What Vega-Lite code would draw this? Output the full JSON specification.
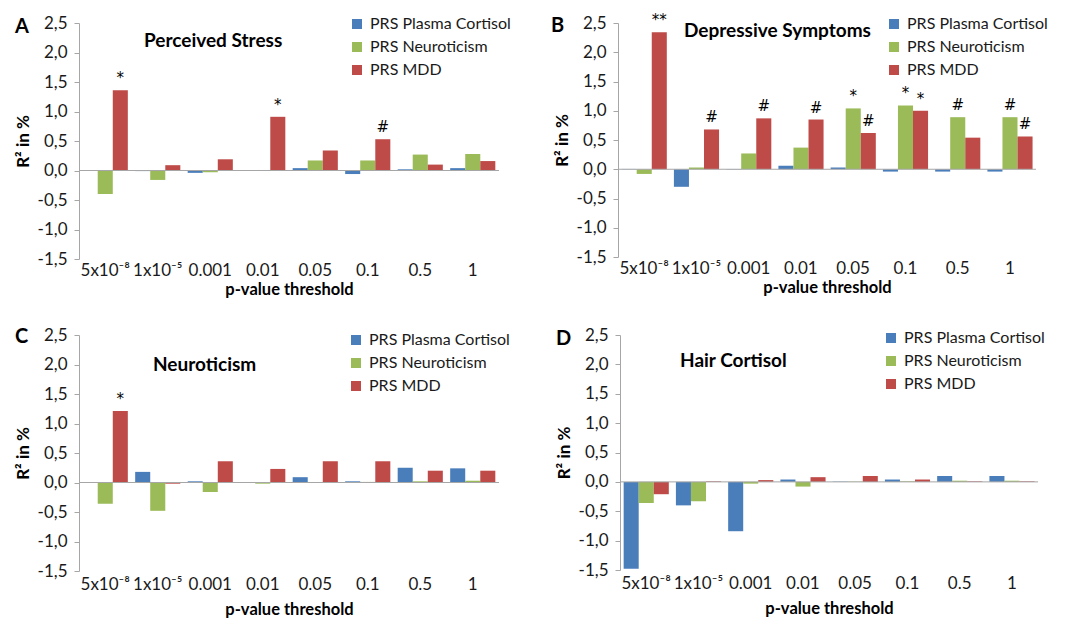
{
  "$schema": "https://vega.github.io/schema/vega-lite/v6.json",
  "padding": {"left": 14, "top": 13, "right": 5, "bottom": 0},
  "background": "white",
  "datasets": {
    "bars": [
      {"p":"A","t":"5x10⁻⁸","s":"PRS Plasma Cortisol","v":0.005},
      {"p":"A","t":"5x10⁻⁸","s":"PRS Neuroticism","v":-0.40},
      {"p":"A","t":"5x10⁻⁸","s":"PRS MDD","v":1.36,"sig":"*"},
      {"p":"A","t":"1x10⁻⁵","s":"PRS Plasma Cortisol","v":-0.01},
      {"p":"A","t":"1x10⁻⁵","s":"PRS Neuroticism","v":-0.16},
      {"p":"A","t":"1x10⁻⁵","s":"PRS MDD","v":0.09},
      {"p":"A","t":"0.001","s":"PRS Plasma Cortisol","v":-0.04},
      {"p":"A","t":"0.001","s":"PRS Neuroticism","v":-0.03},
      {"p":"A","t":"0.001","s":"PRS MDD","v":0.19},
      {"p":"A","t":"0.01","s":"PRS Plasma Cortisol","v":0.005},
      {"p":"A","t":"0.01","s":"PRS Neuroticism","v":0.005},
      {"p":"A","t":"0.01","s":"PRS MDD","v":0.91,"sig":"*"},
      {"p":"A","t":"0.05","s":"PRS Plasma Cortisol","v":0.04},
      {"p":"A","t":"0.05","s":"PRS Neuroticism","v":0.17},
      {"p":"A","t":"0.05","s":"PRS MDD","v":0.34},
      {"p":"A","t":"0.1","s":"PRS Plasma Cortisol","v":-0.06},
      {"p":"A","t":"0.1","s":"PRS Neuroticism","v":0.17},
      {"p":"A","t":"0.1","s":"PRS MDD","v":0.53,"sig":"#"},
      {"p":"A","t":"0.5","s":"PRS Plasma Cortisol","v":0.02},
      {"p":"A","t":"0.5","s":"PRS Neuroticism","v":0.27},
      {"p":"A","t":"0.5","s":"PRS MDD","v":0.10},
      {"p":"A","t":"1","s":"PRS Plasma Cortisol","v":0.04},
      {"p":"A","t":"1","s":"PRS Neuroticism","v":0.28},
      {"p":"A","t":"1","s":"PRS MDD","v":0.16},

      {"p":"B","t":"5x10⁻⁸","s":"PRS Plasma Cortisol","v":0.005},
      {"p":"B","t":"5x10⁻⁸","s":"PRS Neuroticism","v":-0.08},
      {"p":"B","t":"5x10⁻⁸","s":"PRS MDD","v":2.34,"sig":"**"},
      {"p":"B","t":"1x10⁻⁵","s":"PRS Plasma Cortisol","v":-0.30},
      {"p":"B","t":"1x10⁻⁵","s":"PRS Neuroticism","v":0.03},
      {"p":"B","t":"1x10⁻⁵","s":"PRS MDD","v":0.68,"sig":"#"},
      {"p":"B","t":"0.001","s":"PRS Plasma Cortisol","v":-0.005},
      {"p":"B","t":"0.001","s":"PRS Neuroticism","v":0.27},
      {"p":"B","t":"0.001","s":"PRS MDD","v":0.87,"sig":"#"},
      {"p":"B","t":"0.01","s":"PRS Plasma Cortisol","v":0.06},
      {"p":"B","t":"0.01","s":"PRS Neuroticism","v":0.37},
      {"p":"B","t":"0.01","s":"PRS MDD","v":0.85,"sig":"#"},
      {"p":"B","t":"0.05","s":"PRS Plasma Cortisol","v":0.03},
      {"p":"B","t":"0.05","s":"PRS Neuroticism","v":1.04,"sig":"*"},
      {"p":"B","t":"0.05","s":"PRS MDD","v":0.62,"sig":"#"},
      {"p":"B","t":"0.1","s":"PRS Plasma Cortisol","v":-0.04},
      {"p":"B","t":"0.1","s":"PRS Neuroticism","v":1.09,"sig":"*"},
      {"p":"B","t":"0.1","s":"PRS MDD","v":1.00,"sig":"*"},
      {"p":"B","t":"0.5","s":"PRS Plasma Cortisol","v":-0.04},
      {"p":"B","t":"0.5","s":"PRS Neuroticism","v":0.89,"sig":"#"},
      {"p":"B","t":"0.5","s":"PRS MDD","v":0.54},
      {"p":"B","t":"1","s":"PRS Plasma Cortisol","v":-0.04},
      {"p":"B","t":"1","s":"PRS Neuroticism","v":0.89,"sig":"#"},
      {"p":"B","t":"1","s":"PRS MDD","v":0.56,"sig":"#"},

      {"p":"C","t":"5x10⁻⁸","s":"PRS Plasma Cortisol","v":-0.005},
      {"p":"C","t":"5x10⁻⁸","s":"PRS Neuroticism","v":-0.36},
      {"p":"C","t":"5x10⁻⁸","s":"PRS MDD","v":1.21,"sig":"*"},
      {"p":"C","t":"1x10⁻⁵","s":"PRS Plasma Cortisol","v":0.18},
      {"p":"C","t":"1x10⁻⁵","s":"PRS Neuroticism","v":-0.48},
      {"p":"C","t":"1x10⁻⁵","s":"PRS MDD","v":-0.02},
      {"p":"C","t":"0.001","s":"PRS Plasma Cortisol","v":0.02},
      {"p":"C","t":"0.001","s":"PRS Neuroticism","v":-0.16},
      {"p":"C","t":"0.001","s":"PRS MDD","v":0.36},
      {"p":"C","t":"0.01","s":"PRS Plasma Cortisol","v":-0.005},
      {"p":"C","t":"0.01","s":"PRS Neuroticism","v":-0.02},
      {"p":"C","t":"0.01","s":"PRS MDD","v":0.23},
      {"p":"C","t":"0.05","s":"PRS Plasma Cortisol","v":0.09},
      {"p":"C","t":"0.05","s":"PRS Neuroticism","v":0.005},
      {"p":"C","t":"0.05","s":"PRS MDD","v":0.36},
      {"p":"C","t":"0.1","s":"PRS Plasma Cortisol","v":0.02},
      {"p":"C","t":"0.1","s":"PRS Neuroticism","v":0.01},
      {"p":"C","t":"0.1","s":"PRS MDD","v":0.36},
      {"p":"C","t":"0.5","s":"PRS Plasma Cortisol","v":0.25},
      {"p":"C","t":"0.5","s":"PRS Neuroticism","v":0.02},
      {"p":"C","t":"0.5","s":"PRS MDD","v":0.20},
      {"p":"C","t":"1","s":"PRS Plasma Cortisol","v":0.24},
      {"p":"C","t":"1","s":"PRS Neuroticism","v":0.03},
      {"p":"C","t":"1","s":"PRS MDD","v":0.20},

      {"p":"D","t":"5x10⁻⁸","s":"PRS Plasma Cortisol","v":-1.48},
      {"p":"D","t":"5x10⁻⁸","s":"PRS Neuroticism","v":-0.36},
      {"p":"D","t":"5x10⁻⁸","s":"PRS MDD","v":-0.21},
      {"p":"D","t":"1x10⁻⁵","s":"PRS Plasma Cortisol","v":-0.40},
      {"p":"D","t":"1x10⁻⁵","s":"PRS Neuroticism","v":-0.33},
      {"p":"D","t":"1x10⁻⁵","s":"PRS MDD","v":0.01},
      {"p":"D","t":"0.001","s":"PRS Plasma Cortisol","v":-0.84},
      {"p":"D","t":"0.001","s":"PRS Neuroticism","v":-0.03},
      {"p":"D","t":"0.001","s":"PRS MDD","v":0.03},
      {"p":"D","t":"0.01","s":"PRS Plasma Cortisol","v":0.04},
      {"p":"D","t":"0.01","s":"PRS Neuroticism","v":-0.08},
      {"p":"D","t":"0.01","s":"PRS MDD","v":0.08},
      {"p":"D","t":"0.05","s":"PRS Plasma Cortisol","v":0.005},
      {"p":"D","t":"0.05","s":"PRS Neuroticism","v":0.005},
      {"p":"D","t":"0.05","s":"PRS MDD","v":0.10},
      {"p":"D","t":"0.1","s":"PRS Plasma Cortisol","v":0.04},
      {"p":"D","t":"0.1","s":"PRS Neuroticism","v":0.01},
      {"p":"D","t":"0.1","s":"PRS MDD","v":0.04},
      {"p":"D","t":"0.5","s":"PRS Plasma Cortisol","v":0.10},
      {"p":"D","t":"0.5","s":"PRS Neuroticism","v":0.02},
      {"p":"D","t":"0.5","s":"PRS MDD","v":0.01},
      {"p":"D","t":"1","s":"PRS Plasma Cortisol","v":0.10},
      {"p":"D","t":"1","s":"PRS Neuroticism","v":0.02},
      {"p":"D","t":"1","s":"PRS MDD","v":0.01}
    ]
  },
  "config": {
    "font": "Lato",
    "locale": {"number": {"decimal": ",", "thousands": ".", "grouping": [3], "currency": ["", " €"], "minus": "-"}},
    "view": {"stroke": null},
    "title": {"font": "Lato", "fontWeight": "bold", "color": "#000000"},
    "axis": {"labelFont": "Lato", "titleFont": "Lato", "labelColor": "#1a1a1a", "titleColor": "#000000", "labelOverlap": false},
    "axisY": {"labelOverlap": false, "labelFlush": false, "tickCount": 9},
    "legend": {"labelFont": "Lato", "labelFontSize": 16, "labelColor": "#1a1a1a", "symbolType": "square", "symbolSize": 100, "symbolStrokeWidth": 0, "rowPadding": 7, "labelOffset": 5, "padding": 0},
    "bar": {"stroke": null}
  },
  "resolve": {"scale": {"color": "independent"}, "legend": {"color": "independent"}},
  "spacing": 28,
  "vconcat": [
    {
      "spacing": 40,
      "resolve": {"scale": {"color": "independent"}, "legend": {"color": "independent"}},
      "hconcat": [
        {
          "title": {"text": "A", "anchor": "start", "frame": "bounds", "offset": -23, "fontSize": 20, "dx": 1},
          "resolve": {"scale": {"color": "independent"}, "legend": {"color": "independent"}},
          "vconcat": [
            {
              "width": 420, "height": 236,
              "title": {"text": "Perceived Stress", "anchor": "start", "frame": "group", "offset": -37, "dx": 65, "fontSize": 19},
              "data": {"name": "bars"},
              "transform": [{"filter": "datum.p === 'A'"}],
              "layer": [
                {"mark": {"type": "bar"},
                 "encoding": {
                   "x": {"field": "t", "type": "nominal", "sort": ["5x10⁻⁸","1x10⁻⁵","0.001","0.01","0.05","0.1","0.5","1"], "scale": {"paddingInner": 0.14, "paddingOuter": 0.07}, "title": "p-value threshold", "axis": {"domain": false, "ticks": false, "labelAngle": 0, "labelFontSize": 17, "labelPadding": 3, "titleFontSize": 16.5, "titleFontWeight": "bold", "titlePadding": 3, "labelOverlap": false}},
                   "xOffset": {"field": "s", "type": "nominal", "sort": ["PRS Plasma Cortisol","PRS Neuroticism","PRS MDD"], "scale": {"paddingInner": 0}},
                   "y": {"field": "v", "type": "quantitative", "scale": {"domain": [-1.5, 2.5], "nice": false}, "title": "R² in %", "axis": {"values": [-1.5,-1.0,-0.5,0.0,0.5,1.0,1.5,2.0,2.5], "format": ".1f", "labelOverlap": false, "labelFlush": false, "grid": false, "domainColor": "#a6a6a6", "tickColor": "#a6a6a6", "tickSize": 5, "labelPadding": 7, "labelFontSize": 17, "titleFontSize": 17, "titleFontWeight": "bold", "titlePadding": 5}},
                   "color": {"field": "s", "type": "nominal", "scale": {"domain": ["PRS Plasma Cortisol","PRS Neuroticism","PRS MDD"], "range": ["#4A7EBB","#9BBB59","#BE4B48"]}, "legend": {"title": null, "orient": "none", "legendX": 270, "legendY": -7}}
                 }},
                {"data": {"values": [{}]}, "mark": {"type": "rule", "color": "#a6a6a6", "strokeWidth": 1}, "encoding": {"y": {"datum": 0}}},
                {"transform": [{"filter": "datum.sig"}],
                 "mark": {"type": "text", "baseline": "bottom", "dy": -4, "fontSize": 15, "font": "DejaVu Sans", "color": "#000000"},
                 "encoding": {
                   "x": {"field": "t", "type": "nominal", "sort": ["5x10⁻⁸","1x10⁻⁵","0.001","0.01","0.05","0.1","0.5","1"]},
                   "xOffset": {"field": "s", "type": "nominal", "sort": ["PRS Plasma Cortisol","PRS Neuroticism","PRS MDD"]},
                   "y": {"field": "v", "type": "quantitative"},
                   "text": {"field": "sig"}
                 }}
              ]
            }
          ]
        },
        {
          "title": {"text": "B", "anchor": "start", "frame": "bounds", "offset": -23, "fontSize": 20, "dx": -2},
          "resolve": {"scale": {"color": "independent"}, "legend": {"color": "independent"}},
          "vconcat": [
            {
              "width": 418, "height": 234,
              "title": {"text": "Depressive Symptoms", "anchor": "start", "frame": "group", "offset": -28, "dx": 66, "fontSize": 19},
              "data": {"name": "bars"},
              "transform": [{"filter": "datum.p === 'B'"}],
              "layer": [
                {"mark": {"type": "bar"},
                 "encoding": {
                   "x": {"field": "t", "type": "nominal", "sort": ["5x10⁻⁸","1x10⁻⁵","0.001","0.01","0.05","0.1","0.5","1"], "scale": {"paddingInner": 0.14, "paddingOuter": 0.07}, "title": "p-value threshold", "axis": {"domain": false, "ticks": false, "labelAngle": 0, "labelFontSize": 17, "labelPadding": 3, "titleFontSize": 16.5, "titleFontWeight": "bold", "titlePadding": 3, "labelOverlap": false}},
                   "xOffset": {"field": "s", "type": "nominal", "sort": ["PRS Plasma Cortisol","PRS Neuroticism","PRS MDD"], "scale": {"paddingInner": 0}},
                   "y": {"field": "v", "type": "quantitative", "scale": {"domain": [-1.5, 2.5], "nice": false}, "title": "R² in %", "axis": {"values": [-1.5,-1.0,-0.5,0.0,0.5,1.0,1.5,2.0,2.5], "format": ".1f", "labelOverlap": false, "labelFlush": false, "grid": false, "domainColor": "#a6a6a6", "tickColor": "#a6a6a6", "tickSize": 5, "labelPadding": 7, "labelFontSize": 17, "titleFontSize": 17, "titleFontWeight": "bold", "titlePadding": 5}},
                   "color": {"field": "s", "type": "nominal", "scale": {"domain": ["PRS Plasma Cortisol","PRS Neuroticism","PRS MDD"], "range": ["#4A7EBB","#9BBB59","#BE4B48"]}, "legend": {"title": null, "orient": "none", "legendX": 268, "legendY": -7}}
                 }},
                {"data": {"values": [{}]}, "mark": {"type": "rule", "color": "#a6a6a6", "strokeWidth": 1}, "encoding": {"y": {"datum": 0}}},
                {"transform": [{"filter": "datum.sig"}],
                 "mark": {"type": "text", "baseline": "bottom", "dy": -4, "fontSize": 15, "font": "DejaVu Sans", "color": "#000000"},
                 "encoding": {
                   "x": {"field": "t", "type": "nominal", "sort": ["5x10⁻⁸","1x10⁻⁵","0.001","0.01","0.05","0.1","0.5","1"]},
                   "xOffset": {"field": "s", "type": "nominal", "sort": ["PRS Plasma Cortisol","PRS Neuroticism","PRS MDD"]},
                   "y": {"field": "v", "type": "quantitative"},
                   "text": {"field": "sig"}
                 }}
              ]
            }
          ]
        }
      ]
    },
    {
      "spacing": 45,
      "resolve": {"scale": {"color": "independent"}, "legend": {"color": "independent"}},
      "hconcat": [
        {
          "title": {"text": "C", "anchor": "start", "frame": "bounds", "offset": -21, "fontSize": 20, "dx": 1},
          "resolve": {"scale": {"color": "independent"}, "legend": {"color": "independent"}},
          "vconcat": [
            {
              "width": 420, "height": 236,
              "title": {"text": "Neuroticism", "anchor": "start", "frame": "group", "offset": -49, "dx": 74, "fontSize": 19},
              "data": {"name": "bars"},
              "transform": [{"filter": "datum.p === 'C'"}],
              "layer": [
                {"mark": {"type": "bar"},
                 "encoding": {
                   "x": {"field": "t", "type": "nominal", "sort": ["5x10⁻⁸","1x10⁻⁵","0.001","0.01","0.05","0.1","0.5","1"], "scale": {"paddingInner": 0.14, "paddingOuter": 0.07}, "title": "p-value threshold", "axis": {"domain": false, "ticks": false, "labelAngle": 0, "labelFontSize": 17, "labelPadding": 5, "titleFontSize": 16.5, "titleFontWeight": "bold", "titlePadding": 9, "labelOverlap": false}},
                   "xOffset": {"field": "s", "type": "nominal", "sort": ["PRS Plasma Cortisol","PRS Neuroticism","PRS MDD"], "scale": {"paddingInner": 0}},
                   "y": {"field": "v", "type": "quantitative", "scale": {"domain": [-1.5, 2.5], "nice": false}, "title": "R² in %", "axis": {"values": [-1.5,-1.0,-0.5,0.0,0.5,1.0,1.5,2.0,2.5], "format": ".1f", "labelOverlap": false, "labelFlush": false, "grid": false, "domainColor": "#a6a6a6", "tickColor": "#a6a6a6", "tickSize": 5, "labelPadding": 7, "labelFontSize": 17, "titleFontSize": 17, "titleFontWeight": "bold", "titlePadding": 5}},
                   "color": {"field": "s", "type": "nominal", "scale": {"domain": ["PRS Plasma Cortisol","PRS Neuroticism","PRS MDD"], "range": ["#4A7EBB","#9BBB59","#BE4B48"]}, "legend": {"title": null, "orient": "none", "legendX": 269, "legendY": -3}}
                 }},
                {"data": {"values": [{}]}, "mark": {"type": "rule", "color": "#a6a6a6", "strokeWidth": 1}, "encoding": {"y": {"datum": 0}}},
                {"transform": [{"filter": "datum.sig"}],
                 "mark": {"type": "text", "baseline": "bottom", "dy": -4, "fontSize": 15, "font": "DejaVu Sans", "color": "#000000"},
                 "encoding": {
                   "x": {"field": "t", "type": "nominal", "sort": ["5x10⁻⁸","1x10⁻⁵","0.001","0.01","0.05","0.1","0.5","1"]},
                   "xOffset": {"field": "s", "type": "nominal", "sort": ["PRS Plasma Cortisol","PRS Neuroticism","PRS MDD"]},
                   "y": {"field": "v", "type": "quantitative"},
                   "text": {"field": "sig"}
                 }}
              ]
            }
          ]
        },
        {
          "title": {"text": "D", "anchor": "start", "frame": "bounds", "offset": -23, "fontSize": 20, "dx": 1},
          "resolve": {"scale": {"color": "independent"}, "legend": {"color": "independent"}},
          "vconcat": [
            {
              "width": 418, "height": 235,
              "title": {"text": "Hair Cortisol", "anchor": "start", "frame": "group", "offset": -45, "dx": 60, "fontSize": 19},
              "data": {"name": "bars"},
              "transform": [{"filter": "datum.p === 'D'"}],
              "layer": [
                {"mark": {"type": "bar"},
                 "encoding": {
                   "x": {"field": "t", "type": "nominal", "sort": ["5x10⁻⁸","1x10⁻⁵","0.001","0.01","0.05","0.1","0.5","1"], "scale": {"paddingInner": 0.14, "paddingOuter": 0.07}, "title": "p-value threshold", "axis": {"domain": false, "ticks": false, "labelAngle": 0, "labelFontSize": 17, "labelPadding": 5, "titleFontSize": 16.5, "titleFontWeight": "bold", "titlePadding": 9, "labelOverlap": false}},
                   "xOffset": {"field": "s", "type": "nominal", "sort": ["PRS Plasma Cortisol","PRS Neuroticism","PRS MDD"], "scale": {"paddingInner": 0}},
                   "y": {"field": "v", "type": "quantitative", "scale": {"domain": [-1.5, 2.5], "nice": false}, "title": "R² in %", "axis": {"values": [-1.5,-1.0,-0.5,0.0,0.5,1.0,1.5,2.0,2.5], "format": ".1f", "labelOverlap": false, "labelFlush": false, "grid": false, "domainColor": "#a6a6a6", "tickColor": "#a6a6a6", "tickSize": 5, "labelPadding": 7, "labelFontSize": 17, "titleFontSize": 17, "titleFontWeight": "bold", "titlePadding": 5}},
                   "color": {"field": "s", "type": "nominal", "scale": {"domain": ["PRS Plasma Cortisol","PRS Neuroticism","PRS MDD"], "range": ["#4A7EBB","#9BBB59","#BE4B48"]}, "legend": {"title": null, "orient": "none", "legendX": 263, "legendY": -5}}
                 }},
                {"data": {"values": [{}]}, "mark": {"type": "rule", "color": "#a6a6a6", "strokeWidth": 1}, "encoding": {"y": {"datum": 0}}},
                {"transform": [{"filter": "datum.sig"}],
                 "mark": {"type": "text", "baseline": "bottom", "dy": -4, "fontSize": 15, "font": "DejaVu Sans", "color": "#000000"},
                 "encoding": {
                   "x": {"field": "t", "type": "nominal", "sort": ["5x10⁻⁸","1x10⁻⁵","0.001","0.01","0.05","0.1","0.5","1"]},
                   "xOffset": {"field": "s", "type": "nominal", "sort": ["PRS Plasma Cortisol","PRS Neuroticism","PRS MDD"]},
                   "y": {"field": "v", "type": "quantitative"},
                   "text": {"field": "sig"}
                 }}
              ]
            }
          ]
        }
      ]
    }
  ]
}
